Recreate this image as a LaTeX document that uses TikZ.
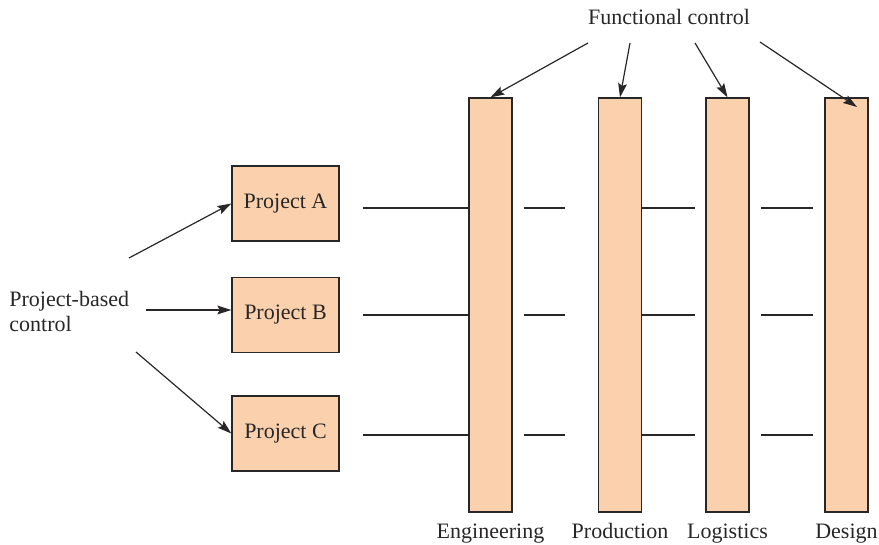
\documentclass[tikz,border=0pt]{standalone}
\usepackage{fontspec}
\setmainfont{Liberation Serif}
\usetikzlibrary{positioning,arrows.meta}
\definecolor{peach}{RGB}{251,209,173}
\definecolor{ink}{RGB}{40,38,38}

\begin{document}
\begin{tikzpicture}[x=0.5pt, y=-0.5pt,
  >={Stealth[length=7pt, width=4.4pt, inset=1.2pt]},
  every node/.style={font=\fontsize{11}{12.5}\selectfont, text=ink},
  proj/.style={draw=ink, line width=0.65pt, fill=peach, inner sep=0pt,
    minimum width=53.5pt, minimum height=37.5pt},
  func/.style={proj, minimum width=21.5pt, minimum height=207pt},
  link/.style={draw=ink, line width=0.6pt},
  ctrl/.style={->, draw=ink, line width=0.6pt}]
\useasboundingbox (0,0) rectangle (879,545);
% projects
\node[proj] (pA) at (285.5,203.5) {Project A};
\node[proj] (pB) at (285.5,315) {Project B};
\node[proj] (pC) at (285.5,433.5) {Project C};
% functions
\node[func] (eng) at (490.5,305) {};
\node[func] (prod) at (620,305) {};
\node[func] (log) at (727.5,305) {};
\node[func] (des) at (846.5,305) {};
\node[anchor=base] (engl) at ([yshift=-13pt]eng.south) {Engineering};
\node[anchor=base] (prodl) at ([yshift=-13pt]prod.south) {Production};
\node[anchor=base] (logl) at ([yshift=-13pt]log.south) {Logistics};
\node[anchor=base] (desl) at ([yshift=-13pt]des.south) {Design};
% control labels
\node[anchor=base] (fcl) at (669,25) {Functional control};
\node[anchor=west, align=left, inner sep=0pt] (pcl) at (9,311) {Project-based\\control};
% matrix lines
\foreach \p/\y in {pA/208,pB/315,pC/435} {
  \draw[link, shorten <=11.5pt] (\p.east |- 0,\y) -- (eng.west |- 0,\y);
  \draw[link, shorten <=5.5pt, shorten >=16.5pt] (eng.east |- 0,\y) -- (prod.west |- 0,\y);
  \draw[link, shorten >=5pt] (prod.east |- 0,\y) -- (log.west |- 0,\y);
  \draw[link, shorten <=5.5pt, shorten >=5.5pt] (log.east |- 0,\y) -- (des.west |- 0,\y);
}
% functional control arrows
\coordinate (f1) at (588,43);
\coordinate (f2) at (630,43);
\coordinate (f3) at (695,43);
\coordinate (f4) at (760,42);
\coordinate (dtip) at (857,107);
\draw[ctrl] (f1) -- (eng.north);
\draw[ctrl] (f2) -- (prod.north);
\draw[ctrl] (f3) -- (log.north);
\draw[ctrl] (f4) -- (dtip);
% project control arrows
\coordinate (q1) at (129,258);
\coordinate (q2) at (146,310);
\coordinate (q3) at (136,352);
\draw[ctrl] (q1) -- (pA.west);
\draw[ctrl] (q2) -- (q2 -| pB.west);
\draw[ctrl] (q3) -- (pC.west);
\end{tikzpicture}
\end{document}
